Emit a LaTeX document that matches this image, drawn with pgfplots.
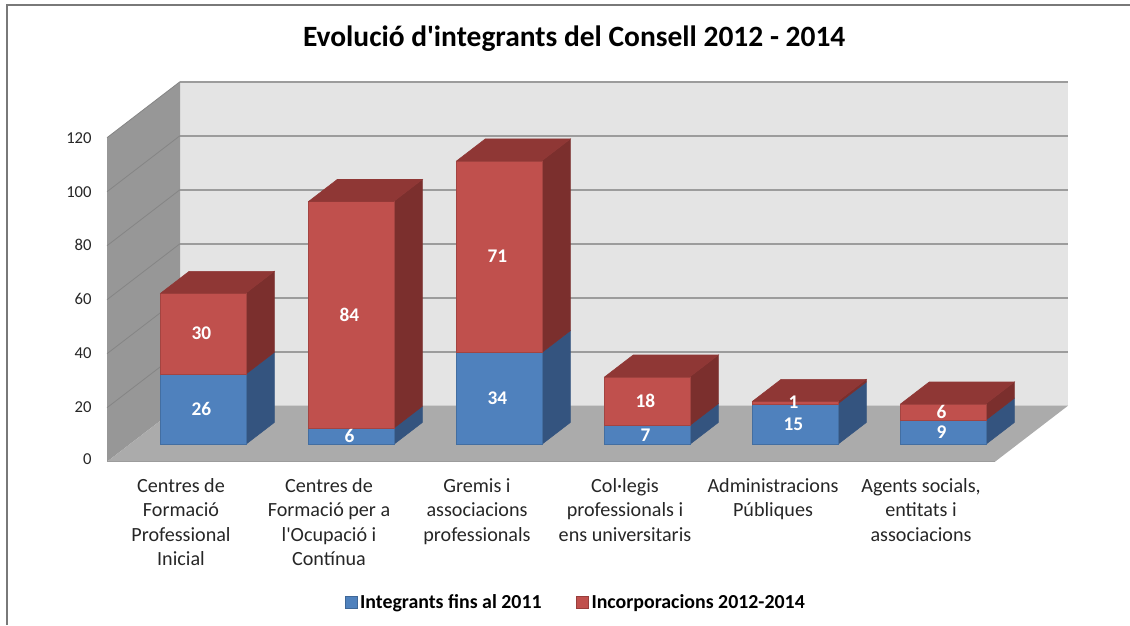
\documentclass[border=0pt]{standalone}
\usepackage{fontspec}
\setmainfont{Carlito}
\usepackage{pgfplots}
\pgfplotsset{compat=1.18}

\definecolor{barblue}{HTML}{4F81BD}
\definecolor{barblueside}{HTML}{34547F}
\definecolor{barblueedge}{HTML}{3F6797}
\definecolor{barred}{HTML}{C0504D}
\definecolor{barredside}{HTML}{7B2F2D}
\definecolor{barredtop}{HTML}{8F3735}
\definecolor{barrededge}{HTML}{983E3C}
\definecolor{backwall}{HTML}{E4E4E4}
\definecolor{sidewall}{HTML}{979797}
\definecolor{floorcol}{HTML}{ABABAB}
\definecolor{gridback}{HTML}{9C9C9C}
\definecolor{gridside}{HTML}{858585}
\definecolor{labelcol}{HTML}{262626}

% one stacked segment: x0, x1, z0, z1, front, side, value
\newcommand{\seg}[7]{%
  \addplot3[fill=#6,draw=#6,forget plot] coordinates {(#2,0.31,#3) (#2,0.70,#3) (#2,0.70,#4) (#2,0.31,#4)} -- cycle;
  \addplot3[fill=#5,draw=#5!85!black,forget plot] coordinates {(#1,0.31,#3) (#2,0.31,#3) (#2,0.31,#4) (#1,0.31,#4)} -- cycle;
}
% top face of a stack
\newcommand{\topface}[3]{%
  \addplot3[fill=barredtop,draw=barredtop,forget plot] coordinates {(#1,0.31,#3) (#2,0.31,#3) (#2,0.70,#3) (#1,0.70,#3)} -- cycle;
}
\newcommand{\gridat}[1]{%
  \addplot3[gridback,line width=1.3pt,forget plot] coordinates {(0,1,#1) (6,1,#1)};
  \addplot3[gridside,line width=0.6pt,forget plot] coordinates {(0,0,#1) (0,1,#1)};
}
\newcommand{\val}[3]{\node[text=white,font=\fontsize{14.5}{14.5}\selectfont\bfseries] at (axis cs:#1,0.31,#2) {#3};}

\begin{document}
\begin{tikzpicture}
\path[use as bounding box] (0,0) rectangle (847.5pt,468.75pt);
\begin{axis}[
  at={(80.25pt,122.475pt)},
  anchor=origin,
  x={(111pt,0pt)},
  y={(54.75pt,42pt)},
  z={(0pt,2.025pt)},
  xmin=0,xmax=6,ymin=0,ymax=1,zmin=0,zmax=120,
  clip=false,
  axis line style={draw=none},
  tick style={draw=none},
  ytick=\empty,
  ztick={0,20,40,60,80,100,120},
  xtick={0.5,1.5,2.5,3.5,4.5,5.5},
  xticklabels={
    {Centres de\\Formació\\Professional\\Inicial},
    {Centres de\\Formació per a\\l\textquotesingle Ocupació i\\Contínua},
    {Gremis i\\associacions\\professionals},
    {Col·legis\\professionals i\\ens universitaris},
    {Administracions\\Públiques},
    {Agents socials,\\entitats i\\associacions}},
  x tick label style={align=center,anchor=north,text=labelcol,yshift=-9pt,
    font=\fontsize{15.1}{18.4}\selectfont},
  z tick label style={text=labelcol,font=\fontsize{12.5}{12.5}\selectfont,xshift=-8pt,yshift=4pt,
    /pgf/number format/assume math mode=true},
  title={Evolució d\textquotesingle integrants del Consell 2012 - 2014},
  title style={font=\fontsize{22.1}{22.1}\selectfont\bfseries,text=black,xshift=-10pt,yshift=13pt},
  legend columns=2,
  legend style={draw=none,fill=none,font=\fontsize{14.9}{14.9}\selectfont\bfseries,
    at={(axis cs:3.17,0,-52)},anchor=center,
    /tikz/every even column/.append style={column sep=24pt}},
  legend image code/.code={\fill[#1] (0pt,-4.5pt) rectangle (9pt,4.5pt);},
]
\addlegendimage{fill=barblue,draw=barblueedge}
\addlegendentry{Integrants fins al 2011}
\addlegendimage{fill=barred,draw=barrededge}
\addlegendentry{Incorporacions 2012-2014}

% walls and floor
\addplot3[fill=backwall,draw=none,forget plot] coordinates {(0,1,0) (6,1,0) (6,1,120) (0,1,120)} -- cycle;
\addplot3[fill=sidewall,draw=none,forget plot] coordinates {(0,0,0) (0,1,0) (0,1,120) (0,0,120)} -- cycle;
\addplot3[fill=floorcol,draw=none,forget plot] coordinates {(0,0,0) (6,0,0) (6,1,0) (0,1,0)} -- cycle;
\addplot3[gridback,line width=1pt,forget plot] coordinates {(0,0,0) (6,0,0)};
\gridat{20}\gridat{40}\gridat{60}\gridat{80}\gridat{100}\gridat{120}

% Centres de Formacio Professional Inicial: 26 + 30
\seg{0.21}{0.785}{0}{26}{barblue}{barblueside}{26}
\seg{0.21}{0.785}{26}{56}{barred}{barredside}{30}
\topface{0.21}{0.785}{56}
\val{0.485}{13}{26}\val{0.485}{41}{30}
% Centres de Formacio per a l'Ocupacio i Continua: 6 + 84
\seg{1.21}{1.785}{0}{6}{barblue}{barblueside}{6}
\seg{1.21}{1.785}{6}{90}{barred}{barredside}{84}
\topface{1.21}{1.785}{90}
\val{1.485}{3}{6}\val{1.485}{48}{84}
% Gremis i associacions professionals: 34 + 71
\seg{2.21}{2.785}{0}{34}{barblue}{barblueside}{34}
\seg{2.21}{2.785}{34}{105}{barred}{barredside}{71}
\topface{2.21}{2.785}{105}
\val{2.485}{17}{34}\val{2.485}{69.5}{71}
% Col·legis professionals i ens universitaris: 7 + 18
\seg{3.21}{3.785}{0}{7}{barblue}{barblueside}{7}
\seg{3.21}{3.785}{7}{25}{barred}{barredside}{18}
\topface{3.21}{3.785}{25}
\val{3.485}{3.5}{7}\val{3.485}{16}{18}
% Administracions Publiques: 15 + 1
\seg{4.21}{4.785}{0}{15}{barblue}{barblueside}{15}
\seg{4.21}{4.785}{15}{16}{barred}{barredside}{1}
\topface{4.21}{4.785}{16}
\val{4.485}{7.5}{15}\val{4.485}{15.5}{1}
% Agents socials, entitats i associacions: 9 + 6
\seg{5.21}{5.785}{0}{9}{barblue}{barblueside}{9}
\seg{5.21}{5.785}{9}{15}{barred}{barredside}{6}
\topface{5.21}{5.785}{15}
\val{5.485}{4.5}{9}\val{5.485}{12}{6}
\end{axis}
\draw[color=gray!95!black,line width=0.9pt] (5.25pt,0pt) -- (5.25pt,465pt) -- (847.5pt,465pt);
\end{tikzpicture}
\end{document}
